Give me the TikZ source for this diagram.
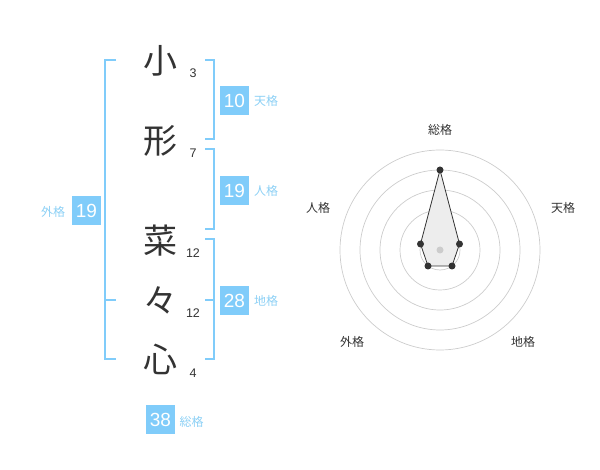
\documentclass[tikz,border=0pt]{standalone}
\usepackage{fontspec}
\usetikzlibrary{calc}
\setmainfont{Liberation Sans}
\newfontfamily\jp{Noto Sans CJK JP}
\definecolor{bl}{RGB}{128,204,250}
\definecolor{bltxt}{RGB}{140,208,245}
\definecolor{dk}{RGB}{51,51,51}
\definecolor{ring}{RGB}{204,204,204}
\begin{document}
\begin{tikzpicture}[x=1pt,y=-1pt,
  bigch/.style={font=\jp\fontsize{34}{34}\selectfont, text=dk, inner sep=0},
  cnt/.style={font=\fontsize{12.5}{12.5}\selectfont, text=dk, inner sep=0},
  numbox/.style={fill=bl, text=white, minimum width=29pt, minimum height=29pt, inner sep=0, font=\fontsize{19}{19}\selectfont},
  lab/.style={font=\jp\fontsize{12}{12}\selectfont, text=bltxt, inner sep=0},
  rlab/.style={font=\jp\fontsize{12}{12}\selectfont, text=dk, inner sep=0},
  brk/.style={draw=bl, line width=2pt},
  dot/.style={circle, fill=dk, inner sep=0, minimum size=7pt}]
\useasboundingbox (0,0) rectangle (600,470);
% characters
\node[bigch] (c1) at (160,61) {小};
\node[bigch] (c2) at (160,141) {形};
\node[bigch] (c3) at (160,241) {菜};
\node[bigch] (c4) at (160,300) {々};
\node[bigch] (c5) at (160,359) {心};
% stroke counts
\node[cnt] (s1) at (193,73) {3};
\node[cnt] (s2) at (193,153) {7};
\node[cnt] (s3) at (193,253) {12};
\node[cnt] (s4) at (193,313) {12};
\node[cnt] (s5) at (193,373) {4};
% brackets
\draw[brk] (116,60) -- (105,60) -- (105,359) -- (116,359);
\draw[brk] (105,300) -- (116,300);
\draw[brk] (205,60) -- (214,60) -- (214,139) -- (205,139);
\draw[brk] (205,149) -- (214,149) -- (214,229) -- (205,229);
\draw[brk] (205,239) -- (214,239) -- (214,359) -- (205,359);
\draw[brk] (205,300) -- (214,300);
% boxes
\node[numbox] (ten) at (234.5,100.5) {10};
\node[lab] (tenl) at (266,101) {天格};
\node[numbox] (jin) at (234.5,190.5) {19};
\node[lab] (jinl) at (266,191) {人格};
\node[numbox] (chi) at (234.5,300.5) {28};
\node[lab] (chil) at (266,301) {地格};
\node[numbox] (gai) at (86.5,210.5) {19};
\node[lab] (gail) at (53,212) {外格};
\node[numbox] (sou) at (160.5,419.5) {38};
\node[lab] (soul) at (191.5,422) {総格};
% radar
\coordinate (O) at (440,250);
\foreach \r in {20,40,60,80,100}
  \draw[ring, line width=0.7pt] (O) circle[radius=\r];
\coordinate (p1) at ($(O)+(0,-80)$);
\coordinate (p2) at ($(O)+(19.5,-6)$);
\coordinate (p3) at ($(O)+(12,16)$);
\coordinate (p4) at ($(O)+(-12,16)$);
\coordinate (p5) at ($(O)+(-19.5,-6)$);
\draw[dk, fill=black!7, line width=0.8pt] (p1) -- (p2) -- (p3) -- (p4) -- (p5) -- cycle;
\node[circle, fill=ring, inner sep=0, minimum size=7pt] (cen) at (O) {};
\foreach \p in {p1,p2,p3,p4,p5} \node[dot] at (\p) {};
\node[rlab] (r1) at (440,130) {総格};
\node[rlab] (r2) at (563,208) {天格};
\node[rlab] (r3) at (523,342) {地格};
\node[rlab] (r4) at (352,342) {外格};
\node[rlab] (r5) at (318,208) {人格};
\end{tikzpicture}
\end{document}
